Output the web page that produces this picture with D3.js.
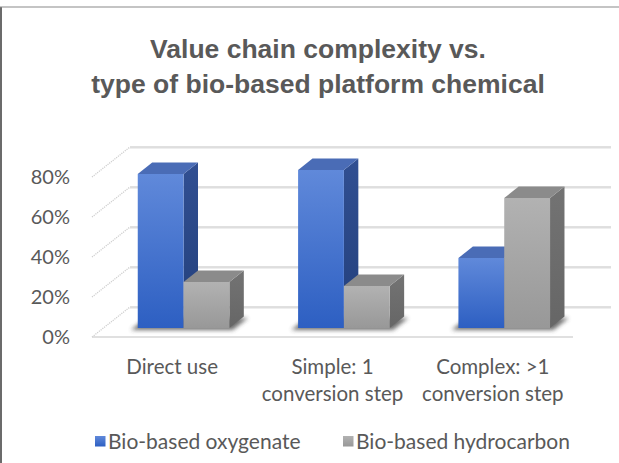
<!DOCTYPE html>
<html>
<head>
<meta charset="utf-8">
<script src="https://cdn.jsdelivr.net/npm/d3@7"></script>
<style>
  html, body { margin: 0; padding: 0; background: #fff; }
  svg { display: block; }
</style>
</head>
<body>
<svg id="chart" width="619" height="463"></svg>
<script>
// Chart data
const titleLines = ["Value chain complexity vs.", "type of bio-based platform chemical"];
const categories = ["Direct use", "Simple: 1 conversion step", "Complex: >1 conversion step"];
const categoryLines = [["Direct use"], ["Simple: 1", "conversion step"], ["Complex: >1", "conversion step"]];
const seriesNames = ["Bio-based oxygenate", "Bio-based hydrocarbon"];
const oxygenate = [77, 79, 35];
const hydrocarbon = [23, 21, 65];
const yTicks = [0, 20, 40, 60, 80];

const svg = d3.select("#chart");
const W = 619, H = 463;

// Frame lines (left and top)
svg.append("line").attr("x1", 1).attr("y1", 7).attr("x2", 1).attr("y2", H)
  .attr("stroke", "#3a3a3a").attr("stroke-width", 1.5);
svg.append("line").attr("x1", 0).attr("y1", 7).attr("x2", W).attr("y2", 7)
  .attr("stroke", "#8a8a8a").attr("stroke-width", 1.2);

// Title
svg.append("g").selectAll("text").data(titleLines).join("text")
  .attr("x", 318).attr("y", (d, i) => 58 + i * 35)
  .attr("text-anchor", "middle")
  .attr("font-family", "'Liberation Sans', Arial, Helvetica, sans-serif")
  .attr("font-weight", "bold").attr("font-size", 26.5)
  .attr("fill", "#595959")
  .text(d => d);

// Scales on the front plane
const x = d3.scaleBand().domain(categories).range([92, 573]);
const xSub = d3.scaleBand().domain(seriesNames).range([0, x.bandwidth()])
  .paddingInner(0).paddingOuter(0.75);
const y = d3.scaleLinear().domain([0, 80]).range([337, 177]);

// Oblique depth projection
const DX = 38, DY = -30;
const P = (px, py, z) => [px + z * DX, py + z * DY];
const poly = pts => "M" + pts.map(p => p.join(",")).join("L") + "Z";

const defs = svg.append("defs");
function vGrad(id, c1, c2) {
  const g = defs.append("linearGradient").attr("id", id)
    .attr("x1", 0).attr("y1", 0).attr("x2", 0).attr("y2", 1);
  g.append("stop").attr("offset", "0%").attr("stop-color", c1);
  g.append("stop").attr("offset", "100%").attr("stop-color", c2);
}
vGrad("blueFront", "#6089da", "#2d5fc2");
vGrad("blueSide", "#314f92", "#23407c");
vGrad("grayFront", "#b2b2b2", "#989898");
vGrad("graySide", "#737373", "#666666");
defs.append("filter").attr("id", "soft").attr("x", "-30%").attr("y", "-100%")
  .attr("width", "160%").attr("height", "300%")
  .append("feGaussianBlur").attr("stdDeviation", 2.2);

const styles = [
  { front: "url(#blueFront)", side: "url(#blueSide)", top: "#4a6cb6", key: "url(#blueFront)" },
  { front: "url(#grayFront)", side: "url(#graySide)", top: "#8b8b8b", key: "url(#grayFront)" }
];

// Side wall dotted gridlines
const wall = svg.append("g");
wall.selectAll("path").data(yTicks).join("path")
  .attr("d", v => poly([P(x.range()[0], y(v), 0), P(x.range()[0], y(v), 1)]).replace("Z", ""))
  .attr("stroke", "#cfcfcf").attr("stroke-width", 1.3)
  .attr("stroke-dasharray", "1.2,1").attr("fill", "none");

// Back wall gridlines
const grid = svg.append("g");
grid.selectAll("line.sh").data(yTicks).join("line").attr("class", "sh")
  .attr("x1", P(x.range()[0], 0, 1)[0]).attr("x2", P(x.range()[1], 0, 1)[0])
  .attr("y1", v => P(0, y(v), 1)[1] + 1.2).attr("y2", v => P(0, y(v), 1)[1] + 1.2)
  .attr("stroke", "#eeeeee").attr("stroke-width", 1.5);
grid.selectAll("line.gl").data(yTicks).join("line").attr("class", "gl")
  .attr("x1", P(x.range()[0], 0, 1)[0]).attr("x2", P(x.range()[1], 0, 1)[0])
  .attr("y1", v => P(0, y(v), 1)[1]).attr("y2", v => P(0, y(v), 1)[1])
  .attr("stroke", "#d6d6d6").attr("stroke-width", 1.5);

// Floor front edge
svg.append("line")
  .attr("x1", x.range()[0]).attr("x2", x.range()[1])
  .attr("y1", y(0)).attr("y2", y(0))
  .attr("stroke", "#d6d6d6").attr("stroke-width", 1.5);

// Y tick labels
svg.append("g").selectAll("text").data(yTicks).join("text")
  .attr("x", 70).attr("y", v => y(v)).attr("dy", "0.35em")
  .attr("text-anchor", "end")
  .attr("font-family", "Lato, 'Open Sans', sans-serif").attr("font-size", 20)
  .attr("fill", "#595959")
  .text(v => v + "%");

// Bars
const Z0 = 0.3, Z1 = 0.68;
const bars = [];
categories.forEach((c, i) => {
  [oxygenate[i], hydrocarbon[i]].forEach((v, s) => {
    bars.push({ cat: c, s, v, x0: x(c) + xSub(seriesNames[s]), w: xSub.bandwidth() });
  });
});

// Floor shadows
const shadows = svg.append("g").attr("filter", "url(#soft)").attr("opacity", 0.75);
shadows.selectAll("path").data(bars).join("path")
  .attr("d", b => poly([
    P(b.x0 - 6, y(0) + 1.5, Z0 - 0.02), P(b.x0 + b.w + 4, y(0) + 1.5, Z0 - 0.02),
    P(b.x0 + b.w + 4, y(0) + 1.5, Z1), P(b.x0 - 6, y(0) + 1.5, Z1)
  ]))
  .attr("fill", "#3c3c3c");

const barG = svg.append("g").selectAll("g").data(bars).join("g");
// right side face
barG.append("path")
  .attr("d", b => poly([
    P(b.x0 + b.w, y(b.v), Z0), P(b.x0 + b.w, y(b.v), Z1),
    P(b.x0 + b.w, y(0), Z1), P(b.x0 + b.w, y(0), Z0)
  ]))
  .attr("fill", b => styles[b.s].side);
// top face
barG.append("path")
  .attr("d", b => poly([
    P(b.x0, y(b.v), Z0), P(b.x0 + b.w, y(b.v), Z0),
    P(b.x0 + b.w, y(b.v), Z1), P(b.x0, y(b.v), Z1)
  ]))
  .attr("fill", b => styles[b.s].top);
// front face
barG.append("path")
  .attr("d", b => poly([
    P(b.x0, y(b.v), Z0), P(b.x0 + b.w, y(b.v), Z0),
    P(b.x0 + b.w, y(0), Z0), P(b.x0, y(0), Z0)
  ]))
  .attr("fill", b => styles[b.s].front);

// Category labels
const catG = svg.append("g").selectAll("text").data(categories).join("text")
  .attr("text-anchor", "middle")
  .attr("font-family", "Lato, 'Open Sans', sans-serif").attr("font-size", 20.5)
  .attr("fill", "#595959");
catG.each(function (c, i) {
  d3.select(this).selectAll("tspan").data(categoryLines[i]).join("tspan")
    .attr("x", x(c) + x.bandwidth() / 2)
    .attr("y", (d, j) => 374 + j * 27)
    .text(d => d);
});

// Legend
const legendX = [95, 343];
const leg = svg.append("g").selectAll("g").data(seriesNames).join("g")
  .attr("transform", (d, i) => `translate(${legendX[i]},436)`);
leg.append("rect").attr("width", 10.5).attr("height", 10.5)
  .attr("fill", (d, i) => styles[i].key);
leg.append("text").attr("x", 13).attr("y", 5.5).attr("dy", "0.35em")
  .attr("font-family", "Lato, 'Open Sans', sans-serif").attr("font-size", 21)
  .attr("fill", "#595959")
  .text(d => d);
</script>
</body>
</html>
